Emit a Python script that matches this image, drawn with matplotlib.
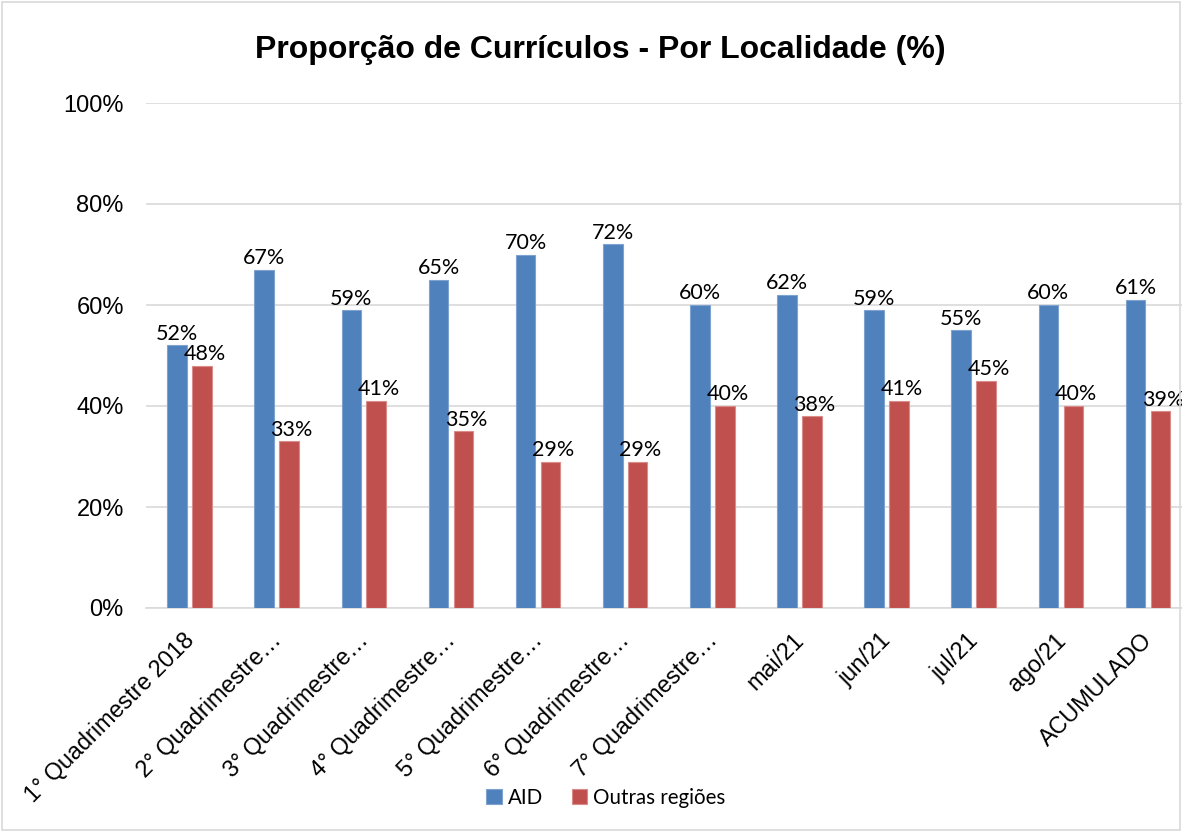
import matplotlib
matplotlib.use("Agg")
import matplotlib.pyplot as plt
import matplotlib.transforms as mtrans
import numpy as np
from matplotlib.patches import Rectangle

categories = ["1° Quadrimestre 2018", "2° Quadrimestre…", "3° Quadrimestre…",
              "4° Quadrimestre…", "5° Quadrimestre…", "6° Quadrimestre…",
              "7° Quadrimestre…", "mai/21", "jun/21", "jul/21", "ago/21", "ACUMULADO"]
aid = [52, 67, 59, 65, 70, 72, 60, 62, 59, 55, 60, 61]
outras = [48, 33, 41, 35, 29, 29, 40, 38, 41, 45, 40, 39]
yticks = [0, 20, 40, 60, 80, 100]
series_names = ["AID", "Outras regiões"]

W, H = 1182, 832
fig = plt.figure(figsize=(W / 100, H / 100), dpi=100)
fig.patches.append(Rectangle((0.002, 0.002), 0.996, 0.996, transform=fig.transFigure,
                             fill=False, edgecolor="#d9d9d9", linewidth=1.2))

ax = fig.add_axes([146 / W, 1 - 608 / H, (1182 - 146) / W, (608 - 103) / H])
x = np.arange(len(categories))
bw = 0.225
off = 0.143
blue = "#4f81bd"
red = "#c0504d"
b1 = ax.bar(x - off, aid, bw, color=blue, edgecolor="#7fa3d1", linewidth=0.8, label=series_names[0], zorder=3)
b2 = ax.bar(x + off, outras, bw, color=red, edgecolor="#d98c8a", linewidth=0.8, label=series_names[1], zorder=3)

lab_font = dict(family=["Lato", "DejaVu Sans"], fontsize=15.5, color="#000000")
for xi, v in zip(x, aid):
    ax.text(xi - off, v + 0.3, f"{v}%", ha="center", va="bottom", **lab_font)
for xi, v in zip(x, outras):
    ax.text(xi + off + 0.03, v + 0.3, f"{v}%", ha="center", va="bottom", **lab_font)

ax.set_xlim(-0.5, 11.39)
ax.set_ylim(0, 100)
ax.set_yticks(yticks)
ax.set_yticklabels([f"{t}%" for t in yticks], family="Liberation Sans", fontsize=17)
ax.yaxis.grid(True, color="#d9d9d9", linewidth=1.2, zorder=0)
ax.set_axisbelow(True)
for s in ["top", "right", "left"]:
    ax.spines[s].set_visible(False)
ax.spines["bottom"].set_color("#d9d9d9")
ax.spines["bottom"].set_linewidth(1.2)
ax.tick_params(axis="both", length=0)
ax.tick_params(axis="y", pad=16)
ax.set_xticks(x)
ax.set_xticklabels(categories, rotation=45, ha="right", rotation_mode="anchor",
                   family="Liberation Sans", fontsize=16.8)
ax.tick_params(axis="x", pad=15)
shift = mtrans.ScaledTranslation(-7 / 100, 0, fig.dpi_scale_trans)
for lbl in ax.get_xticklabels():
    lbl.set_transform(lbl.get_transform() + shift)

fig.text(0.508, 1 - 50 / H, "Proporção de Currículos - Por Localidade (%)", ha="center", va="center",
         family="Liberation Sans", fontweight="bold", fontsize=23)

fig.legend(handles=[b1, b2], labels=series_names, loc="center", bbox_to_anchor=(606 / W, 1 - 798 / H),
           ncol=2, frameon=False, prop=dict(family=["Lato", "DejaVu Sans"], size=14.8),
           handlelength=0.75, handleheight=0.75, handletextpad=0.3, columnspacing=1.4)

fig.savefig("out.png", dpi=100)
